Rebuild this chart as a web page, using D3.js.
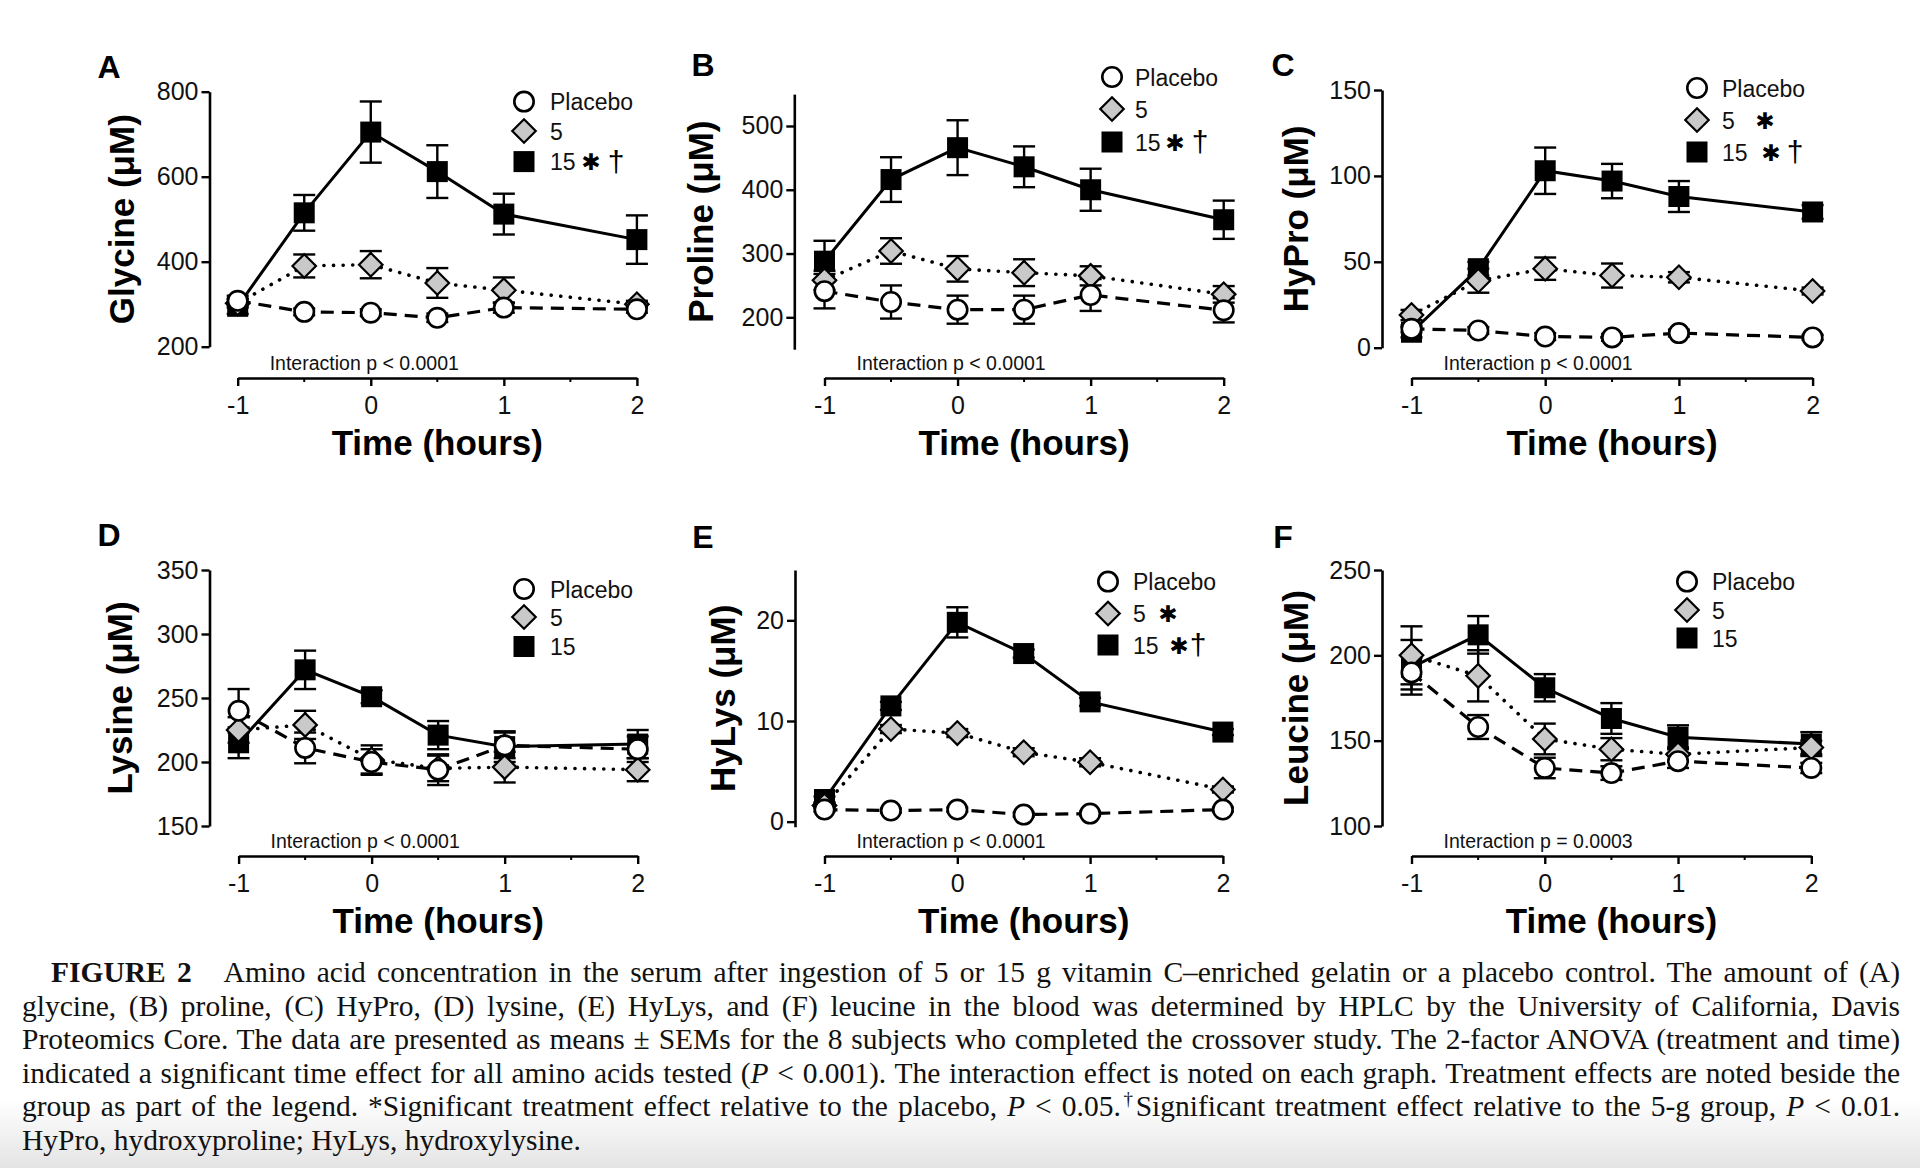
<!DOCTYPE html>
<html><head><meta charset="utf-8">
<script src="https://cdn.jsdelivr.net/npm/d3@7/dist/d3.min.js"></script>
<style>
html,body{margin:0;padding:0;background:#fff;}
body{width:1920px;height:1168px;position:relative;overflow:hidden;}
svg{position:absolute;left:0;top:0;}
.cap{position:absolute;left:22px;width:1878px;font-family:"Liberation Serif","Times New Roman",serif;font-size:29.5px;line-height:33.5px;color:#111;white-space:nowrap;}
.cap .ln{text-align:justify;text-align-last:justify;white-space:normal;}
.cap .ln.last{text-align-last:left;}
</style></head>
<body>
<script>
// ---------- DATA ----------
const times = [-1, -0.5, 0, 0.5, 1, 2];
const xTickValues = [-1, 0, 1, 2];
const xMinorTicks = [-0.5, 0.5, 1.5];
const seriesNames = ["Placebo", "5", "15"];

const glycine15 = [295, 515, 705, 612, 512, 452];
const glycine15Err = [18, 42, 72, 62, 48, 57];
const glycine5 = [302, 390, 393, 350, 333, 300];
const glycine5Err = [10, 27, 32, 35, 30, 8];
const glycineP = [308, 282, 280, 268, 292, 288];
const glycinePErr = [12, 8, 8, 10, 12, 8];
const glycineTicks = [200, 400, 600, 800];

const proline15 = [288, 416, 466, 436, 400, 353];
const proline15Err = [32, 35, 43, 32, 33, 30];
const proline5 = [258, 304, 276, 270, 265, 236];
const proline5Err = [15, 20, 20, 21, 15, 13];
const prolineP = [241, 224, 212, 212, 235, 211];
const prolinePErr = [27, 26, 22, 22, 25, 19];
const prolineTicks = [200, 300, 400, 500];

const hypro15 = [9, 46, 103, 97, 88, 79];
const hypro15Err = [3, 4, 13.5, 10, 9, 4];
const hypro5 = [19, 39, 46, 42, 41, 33];
const hypro5Err = [3, 7, 6.5, 7, 3, 2];
const hyproP = [11, 10, 6.5, 6, 8.5, 6];
const hyproPErr = [2, 2, 2, 2, 2, 1.5];
const hyproTicks = [0, 50, 100, 150];

const lysine15 = [215, 272, 251, 221, 212, 214];
const lysine15Err = [12, 15, 5, 11, 12, 11];
const lysine5 = [225, 229, 202, 195, 196, 194];
const lysine5Err = [10, 11, 11, 10, 12, 9];
const lysineP = [240, 211, 200, 194, 213, 210];
const lysinePErr = [17, 12, 10, 12, 10, 10];
const lysineTicks = [150, 200, 250, 300, 350];

const hylys15 = [2.2, 11.5, 19.8, 16.7, 11.9, 8.9];
const hylys15Err = [0.3, 0.4, 1.5, 0.4, 0.4, 0.3];
const hylys5 = [1.6, 9.2, 8.8, 6.9, 5.9, 3.2];
const hylys5Err = [0.3, 0.4, 0.4, 0.4, 0.4, 0.3];
const hylysP = [1.2, 1.1, 1.2, 0.7, 0.8, 1.2];
const hylysPErr = [0.2, 0.2, 0.2, 0.2, 0.2, 0.2];
const hylysTicks = [0, 10, 20];

const leucine15 = [193, 212, 181, 163, 152, 148];
const leucine15Err = [16, 11, 8, 9, 7, 7];
const leucine5 = [200, 188, 151, 145, 142, 146];
const leucine5Err = [17, 15, 9, 6.5, 4, 4];
const leucineP = [190, 158, 134, 131, 138, 134];
const leucinePErr = [10, 7, 6, 4, 4, 3];
const leucineTicks = [100, 150, 200, 250];

const captionLines = [
  '<b>FIGURE 2</b>&nbsp;&nbsp; Amino acid concentration in the serum after ingestion of 5 or 15 g vitamin C–enriched gelatin or a placebo control. The amount of (A)',
  'glycine, (B) proline, (C) HyPro, (D) lysine, (E) HyLys, and (F) leucine in the blood was determined by HPLC by the University of California, Davis',
  'Proteomics Core. The data are presented as means ± SEMs for the 8 subjects who completed the crossover study. The 2-factor ANOVA (treatment and time)',
  'indicated a significant time effect for all amino acids tested (<i>P</i> &lt; 0.001). The interaction effect is noted on each graph. Treatment effects are noted beside the',
  'group as part of the legend. *Significant treatment effect relative to the placebo, <i>P</i> &lt; 0.05.<sup style="font-size:19px;line-height:0">†</sup>Significant treatment effect relative to the 5-g group, <i>P</i> &lt; 0.01.',
  'HyPro, hydroxyproline; HyLys, hydroxylysine.'
];

// ---------- LAYOUT ----------
const panels = [
  {letter:"A", ylab:"Glycine (μM)", ticks:glycineTicks, domain:[200,800], yr:[346.7,91.7], ax:209.5, xr:[237.7,636.9], axisY:378,
   s15:[glycine15,glycine15Err], s5:[glycine5,glycine5Err], sP:[glycineP,glycinePErr], inter:"Interaction p < 0.0001",
   letterPos:[109,67], ylabX:122, legX:524, legTX:550, legY:[101.6,131,161.6], mark5:null, mark15:[41,66]},
  {letter:"B", ylab:"Proline (μM)", ticks:prolineTicks, domain:[150,550], yr:[349.2,94.1], ax:794.3, xr:[824.5,1223.7], axisY:378,
   s15:[proline15,proline15Err], s5:[proline5,proline5Err], sP:[prolineP,prolinePErr], inter:"Interaction p < 0.0001",
   letterPos:[703,65], ylabX:701, legX:1112, legTX:1135, legY:[77,109,142], mark5:null, mark15:[40,65]},
  {letter:"C", ylab:"HyPro (μM)", ticks:hyproTicks, domain:[0,150], yr:[347.7,90], ax:1382, xr:[1411.5,1812.6], axisY:378,
   s15:[hypro15,hypro15Err], s5:[hypro5,hypro5Err], sP:[hyproP,hyproPErr], inter:"Interaction p < 0.0001",
   letterPos:[1283,65], ylabX:1296, legX:1697, legTX:1722, legY:[88,120,152], mark5:43, mark15:[49,73]},
  {letter:"D", ylab:"Lysine (μM)", ticks:lysineTicks, domain:[150,350], yr:[826,570], ax:209.5, xr:[238.6,637.7], axisY:856,
   s15:[lysine15,lysine15Err], s5:[lysine5,lysine5Err], sP:[lysineP,lysinePErr], inter:"Interaction p < 0.0001",
   letterPos:[109,535], ylabX:120, legX:524, legTX:550, legY:[589,617,646.5], mark5:null, mark15:null},
  {letter:"E", ylab:"HyLys (μM)", ticks:hylysTicks, domain:[-0.5,25], yr:[826.7,570], ax:795, xr:[824.5,1222.9], axisY:856,
   s15:[hylys15,hylys15Err], s5:[hylys5,hylys5Err], sP:[hylysP,hylysPErr], inter:"Interaction p < 0.0001",
   letterPos:[703,537], ylabX:723, legX:1108, legTX:1133, legY:[581.6,613.5,645], mark5:35, mark15:[46,65]},
  {letter:"F", ylab:"Leucine (μM)", ticks:leucineTicks, domain:[100,250], yr:[826,570], ax:1382, xr:[1411.5,1811.3], axisY:856,
   s15:[leucine15,leucine15Err], s5:[leucine5,leucine5Err], sP:[leucineP,leucinePErr], inter:"Interaction p = 0.0003",
   letterPos:[1283,537], ylabX:1296, legX:1687, legTX:1712, legY:[581.6,610,638], mark5:null, mark15:null}
];

const SANS = '"Liberation Sans", Arial, Helvetica, sans-serif';
const svg = d3.select("body").append("svg").attr("width",1920).attr("height",1168)
  .style("font-family", SANS);

// bottom shading
const defs = svg.append("defs");
const grad = defs.append("linearGradient").attr("id","shade").attr("x1",0).attr("y1",0).attr("x2",0).attr("y2",1);
grad.append("stop").attr("offset","0%").attr("stop-color","#ffffff");
grad.append("stop").attr("offset","100%").attr("stop-color","#e4e4e4");
svg.append("rect").attr("x",0).attr("y",1100).attr("width",1920).attr("height",68).attr("fill","url(#shade)");

const markSize = 21;
function drawMarker(g, type, x, y, size){
  if(type==="15"){
    g.append("rect").attr("x",x-size/2).attr("y",y-size/2).attr("width",size).attr("height",size).attr("fill","#000");
  } else if(type==="5"){
    const r = size*0.56;
    g.append("path").attr("d",`M${x},${y-r}L${x+r},${y}L${x},${y+r}L${x-r},${y}Z`)
      .attr("fill","#c9c9c9").attr("stroke","#000").attr("stroke-width",2.2);
  } else {
    g.append("circle").attr("cx",x).attr("cy",y).attr("r",size/2-0.8).attr("fill","#fff").attr("stroke","#000").attr("stroke-width",2.6);
  }
}

panels.forEach(p=>{
  const g = svg.append("g");
  const x = d3.scaleLinear().domain([-1,2]).range(p.xr);
  const y = d3.scaleLinear().domain(p.domain).range(p.yr);

  // y axis
  const yAxis = d3.axisLeft(y).tickValues(p.ticks).tickSize(8).tickSizeOuter(0).tickPadding(3);
  const ya = g.append("g").attr("transform",`translate(${p.ax},0)`).call(yAxis);
  ya.select(".domain").attr("stroke-width",2.6).attr("stroke","#000");
  ya.selectAll(".tick line").attr("stroke-width",2.4).attr("stroke","#000");
  ya.selectAll(".tick text").attr("font-size",25).attr("font-family",SANS).attr("fill","#111");

  // x axis
  const xAxis = d3.axisBottom(x).tickValues(xTickValues).tickSize(8).tickSizeOuter(0).tickPadding(10).tickFormat(d=>String(d));
  const xa = g.append("g").attr("transform",`translate(0,${p.axisY})`).call(xAxis);
  xa.select(".domain").attr("stroke-width",2.6).attr("stroke","#000");
  xa.selectAll(".tick line").attr("stroke-width",2.4).attr("stroke","#000");
  xa.selectAll(".tick text").attr("font-size",25).attr("font-family",SANS).attr("fill","#111");
  xa.selectAll(".minor").data(xMinorTicks).enter().append("line").attr("class","minor")
    .attr("x1",d=>x(d)).attr("x2",d=>x(d)).attr("y1",0).attr("y2",4).attr("stroke","#000").attr("stroke-width",2);

  // titles
  g.append("text").attr("x",(p.xr[0]+p.xr[1])/2).attr("y",p.axisY+77).attr("text-anchor","middle")
    .attr("font-size",35).attr("font-weight","bold").text("Time (hours)");
  const yc = (p.yr[0]+p.yr[1])/2;
  g.append("text").attr("transform",`translate(${p.ylabX+12},${yc}) rotate(-90)`).attr("text-anchor","middle")
    .attr("font-size",35).attr("font-weight","bold").text(p.ylab);
  g.append("text").attr("x",p.letterPos[0]).attr("y",p.letterPos[1]+11).attr("text-anchor","middle")
    .attr("font-size",32).attr("font-weight","bold").text(p.letter);
  g.append("text").attr("x",p.xr[0]+32).attr("y",p.axisY-8).attr("font-size",19.5).attr("fill","#111").text(p.inter);

  // series
  const series = [
    {key:"15", vals:p.s15[0], errs:p.s15[1], dash:null, width:3},
    {key:"5", vals:p.s5[0], errs:p.s5[1], dash:"0.1 9.5", width:3.6},
    {key:"P", vals:p.sP[0], errs:p.sP[1], dash:"13 8", width:3.2}
  ];
  const line = d3.line().x(d=>x(d[0])).y(d=>y(d[1]));
  series.forEach(s=>{
    const pts = times.map((t,i)=>[t,s.vals[i]]);
    const path = g.append("path").attr("d",line(pts)).attr("fill","none").attr("stroke","#000")
      .attr("stroke-width",s.width);
    if(s.dash){ path.attr("stroke-dasharray",s.dash); if(s.key==="5") path.attr("stroke-linecap","round"); }
  });
  series.forEach(s=>{
    const eg = g.append("g").attr("stroke","#000").attr("stroke-width",2.4);
    times.forEach((t,i)=>{
      const cx = x(t), hi = y(s.vals[i]+s.errs[i]), lo = y(s.vals[i]-s.errs[i]);
      eg.append("line").attr("x1",cx).attr("x2",cx).attr("y1",hi).attr("y2",lo);
      eg.append("line").attr("x1",cx-11).attr("x2",cx+11).attr("y1",hi).attr("y2",hi);
      eg.append("line").attr("x1",cx-11).attr("x2",cx+11).attr("y1",lo).attr("y2",lo);
    });
  });
  series.forEach(s=>{
    const mg = g.append("g");
    times.forEach((t,i)=> drawMarker(mg, s.key, x(t), y(s.vals[i]), markSize));
  });

  // legend
  const lg = g.append("g");
  const legTypes = ["P","5","15"];
  legTypes.forEach((tp,i)=>{
    drawMarker(lg, tp, p.legX, p.legY[i], 21);
    lg.append("text").attr("x",p.legTX).attr("y",p.legY[i]+8.5).attr("font-size",23).attr("fill","#111").text(seriesNames[i]);
  });
  // significance marks (heavy asterisk, vertically centred, compact font box)
  function star(xx, yy){
    lg.append("text").attr("x",xx).attr("y",yy+8.5).attr("text-anchor","middle")
      .attr("font-family",'"DejaVu Sans", sans-serif').attr("font-size",23).text("✱");
  }
  function dagger(xx, yy){
    lg.append("text").attr("x",xx).attr("y",yy+10).attr("text-anchor","middle").attr("font-size",30).text("†");
  }
  if(p.mark5!==null) star(p.legTX+p.mark5, p.legY[1]);
  if(p.mark15!==null){ star(p.legTX+p.mark15[0], p.legY[2]); dagger(p.legTX+p.mark15[1], p.legY[2]); }
});

// caption
const cap = d3.select("body").append("div").attr("class","cap").style("top","956px");
captionLines.forEach((l,i)=>{
  const d = cap.append("div").attr("class","ln"+(i===captionLines.length-1?" last":"")).html(l);
  if(i===0) d.style("padding-left","29px");
});
</script>
</body></html>
